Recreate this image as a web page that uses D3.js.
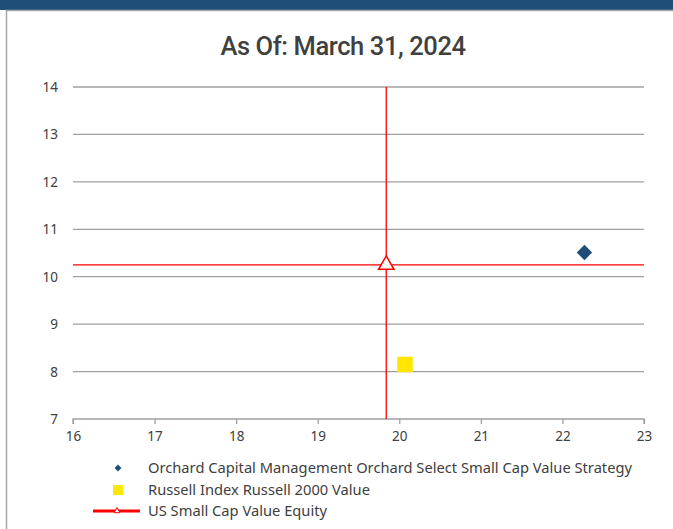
<!DOCTYPE html>
<html>
<head>
<meta charset="utf-8">
<script src="https://cdn.jsdelivr.net/npm/d3@7"></script>
<style>
  html, body { margin: 0; padding: 0; background: #fff; }
  svg { display: block; }
  text { font-family: "Noto Sans", "Open Sans", sans-serif; fill: #404040; }
</style>
</head>
<body>
<svg id="chart" width="673" height="529"></svg>
<script>
// Risk/return snapshot values
const titleText = "As Of: March 31, 2024";
const xTicks = [16, 17, 18, 19, 20, 21, 22, 23];
const yTicks = [7, 8, 9, 10, 11, 12, 13, 14];
const seriesNames = [
  "Orchard Capital Management Orchard Select Small Cap Value Strategy",
  "Russell Index Russell 2000 Value",
  "US Small Cap Value Equity"
];
const seriesX = [22.27, 20.07, 19.84];
const seriesY = [10.51, 8.15, 10.25];
const seriesColors = ["#1f4e79", "#ffe600", "#ff0000"];

const svg = d3.select("#chart");
const W = 673, H = 529;

// Header band and panel frame
svg.append("rect").attr("x", 0).attr("y", 0).attr("width", W).attr("height", 10).attr("fill", "#1f4e79");
svg.append("path").attr("d", `M6.5,${H} V10.5 H${W}`).attr("fill", "none").attr("stroke", "#a6a6a6").attr("stroke-width", 1.5);

svg.append("text").attr("x", 343).attr("y", 55).attr("text-anchor", "middle")
  .style("font-family", "'Roboto', sans-serif")
  .style("font-size", "25.5px").style("font-weight", "500").style("fill", "#404040")
  .style("letter-spacing", "-0.4px")
  .text(titleText);

const x = d3.scaleLinear().domain([16, 23]).range([73, 644]);
const y = d3.scaleLinear().domain([7, 14]).range([419, 87]);

// Horizontal gridlines
svg.append("g").selectAll("line").data(yTicks.filter(v => v !== 7)).join("line")
  .attr("x1", x(16)).attr("x2", x(23))
  .attr("y1", d => y(d)).attr("y2", d => y(d))
  .attr("stroke", "#a0a0a0").attr("stroke-width", 1.3);

// Y axis labels
svg.append("g").selectAll("text").data(yTicks).join("text")
  .attr("x", 58).attr("y", d => y(d) + 5).attr("text-anchor", "end")
  .style("font-size", "13.5px").text(d => d);

// X axis
const xAxis = svg.append("g").attr("transform", `translate(0,${y(7)})`)
  .call(d3.axisBottom(x).tickValues(xTicks).tickSize(5).tickPadding(7).tickFormat(d3.format("d")));
xAxis.select(".domain").attr("stroke", "#a0a0a0").attr("stroke-width", 1.3).attr("d", `M${x(16)},5V0H${x(23)}V5`);
xAxis.selectAll(".tick line").attr("stroke", "#a0a0a0").attr("stroke-width", 1.3);
xAxis.selectAll(".tick text").style("font-size", "13.5px").style("font-family", "'Noto Sans', sans-serif").attr("fill", "#404040");

// Peer group crosshair
const px = x(seriesX[2]), py = y(seriesY[2]);
svg.append("line").attr("x1", px).attr("x2", px).attr("y1", y(14)).attr("y2", y(7))
  .attr("stroke", seriesColors[2]).attr("stroke-width", 1.3);
svg.append("line").attr("x1", x(16)).attr("x2", x(23)).attr("y1", py).attr("y2", py)
  .attr("stroke", seriesColors[2]).attr("stroke-width", 1.3);

// Markers
const diamond = d3.symbol().type(d3.symbolDiamond2).size(150);
const square = d3.symbol().type(d3.symbolSquare).size(240);
const triangle = d3.symbol().type(d3.symbolTriangle2).size(170);

svg.append("path").attr("d", diamond()).attr("transform", `translate(${x(seriesX[0])},${y(seriesY[0])})`)
  .attr("fill", seriesColors[0]);
svg.append("path").attr("d", square()).attr("transform", `translate(${x(seriesX[1])},${y(seriesY[1])})`)
  .attr("fill", seriesColors[1]);
svg.append("path").attr("d", triangle()).attr("transform", `translate(${px},${py})`)
  .attr("fill", "#fff").attr("stroke", seriesColors[2]).attr("stroke-width", 1.5);

// Legend
const legendY = [468, 490, 511];
const lg = svg.append("g");
lg.append("path").attr("d", d3.symbol().type(d3.symbolDiamond2).size(30)())
  .attr("transform", `translate(118,${legendY[0]})`).attr("fill", seriesColors[0]);
lg.append("rect").attr("x", 113).attr("y", legendY[1] - 5).attr("width", 10).attr("height", 10).attr("fill", seriesColors[1]);
lg.append("line").attr("x1", 93).attr("x2", 140).attr("y1", legendY[2]).attr("y2", legendY[2])
  .attr("stroke", seriesColors[2]).attr("stroke-width", 3);
lg.append("path").attr("d", d3.symbol().type(d3.symbolTriangle2).size(25)())
  .attr("transform", `translate(117,${legendY[2]})`).attr("fill", "#fff").attr("stroke", seriesColors[2]).attr("stroke-width", 1);
lg.selectAll("text").data(seriesNames).join("text")
  .attr("x", 148).attr("y", (d, i) => legendY[i] + 5)
  .style("font-size", "14.7px").text(d => d);
</script>
</body>
</html>
